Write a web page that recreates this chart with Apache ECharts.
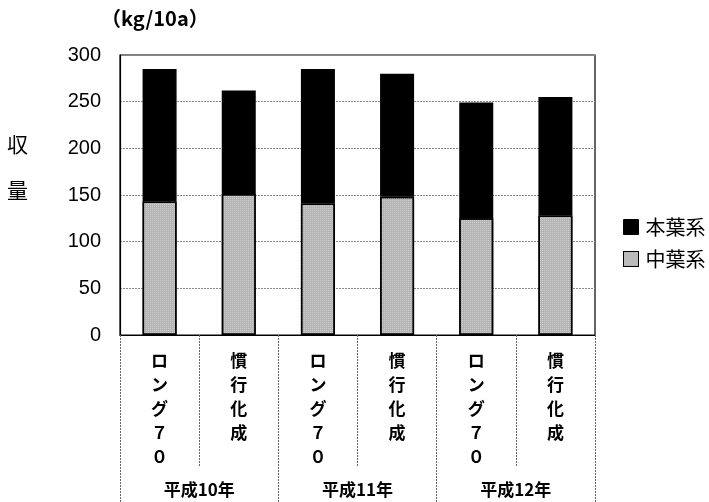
<!DOCTYPE html>
<html>
<head>
<meta charset="utf-8">
<script src="https://cdn.jsdelivr.net/npm/echarts@6/dist/echarts.min.js"></script>
<style>
  html, body { margin: 0; padding: 0; background: #fff; }
  #chart { width: 709px; height: 502px; }
</style>
</head>
<body>
<div id="chart"></div>
<script>
// Yield per 10a by treatment and year
const categories = ['ロング７０', '慣行化成', 'ロング７０', '慣行化成', 'ロング７０', '慣行化成'];
const years = ['平成10年', '平成11年', '平成12年'];
const seriesNames = ['本葉系', '中葉系'];
const midLeaf = [143, 151, 141, 148, 125, 128];   // 中葉系
const mainLeaf = [142, 111, 144, 132, 124, 127];  // 本葉系 (stacked on top)
const yTicks = { min: 0, max: 300, interval: 50 };

const jpFont = '"Noto Sans CJK JP", sans-serif';
const numFont = '"Liberation Sans", Arial, sans-serif';

const chart = echarts.init(document.getElementById('chart'));
chart.setOption({
  animation: false,
  backgroundColor: '#fff',
  grid: {
    left: 120, right: 114, top: 55, bottom: 167,
    show: true, borderColor: '#000', borderWidth: 1.2
  },
  legend: {
    orient: 'vertical',
    left: 618, top: 212,
    icon: 'rect',
    itemWidth: 15, itemHeight: 15, itemGap: 12,
    data: seriesNames,
    textStyle: { fontFamily: jpFont, fontSize: 20, color: '#000', padding: [0, 0, 0, 2] },
    itemStyle: { borderColor: '#000', borderWidth: 1 }
  },
  xAxis: [
    {
      type: 'category',
      data: categories,
      position: 'bottom',
      axisLine: { show: true, lineStyle: { color: '#000', width: 1.2 } },
      axisTick: {
        show: true, length: 132,
        lineStyle: { color: '#666', type: [2, 1], width: 1 }
      },
      axisLabel: {
        interval: 0, margin: 14,
        fontFamily: jpFont, fontSize: 17, fontWeight: 'bold', color: '#000',
        lineHeight: 24,
        formatter: v => v.split('').join('\n')
      }
    },
    {
      type: 'category',
      data: years,
      position: 'bottom',
      axisLine: { show: false },
      axisTick: {
        show: true, length: 170,
        lineStyle: { color: '#666', type: [2, 1], width: 1 }
      },
      axisLabel: {
        interval: 0, margin: 146,
        fontFamily: jpFont, fontSize: 17, fontWeight: 'bold', color: '#000'
      }
    }
  ],
  yAxis: {
    type: 'value',
    min: yTicks.min, max: yTicks.max, interval: yTicks.interval,
    axisLine: { show: true, lineStyle: { color: '#000', width: 1.2 } },
    axisTick: { show: false },
    axisLabel: { margin: 19, fontFamily: numFont, fontSize: 20, color: '#000' },
    splitLine: { show: true, lineStyle: { color: '#888', type: [2, 1], width: 1 } }
  },
  graphic: [
    { type: 'text', left: 101, top: 8,
      style: { text: '（kg/10a）', font: 'bold 20px ' + jpFont, fill: '#000' } },
    { type: 'text', left: 7, top: 134,
      style: { text: '収', font: '21px ' + jpFont, fill: '#000' } },
    { type: 'text', left: 7, top: 180,
      style: { text: '量', font: '21px ' + jpFont, fill: '#000' } }
  ],
  series: [
    {
      name: '中葉系', type: 'bar', stack: 'yield', xAxisIndex: 0,
      data: midLeaf, barWidth: 34,
      itemStyle: {
        color: '#b4b4b4', borderColor: '#000', borderWidth: 1.5,
        decal: {
          symbol: 'rect', symbolSize: 1,
          dashArrayX: [1, 1], dashArrayY: [1, 1],
          color: 'rgba(255,255,255,0.35)'
        }
      }
    },
    {
      name: '本葉系', type: 'bar', stack: 'yield', xAxisIndex: 0,
      data: mainLeaf, barWidth: 34,
      itemStyle: { color: '#000', borderColor: '#000', borderWidth: 1.5 }
    }
  ]
});
</script>
</body>
</html>
